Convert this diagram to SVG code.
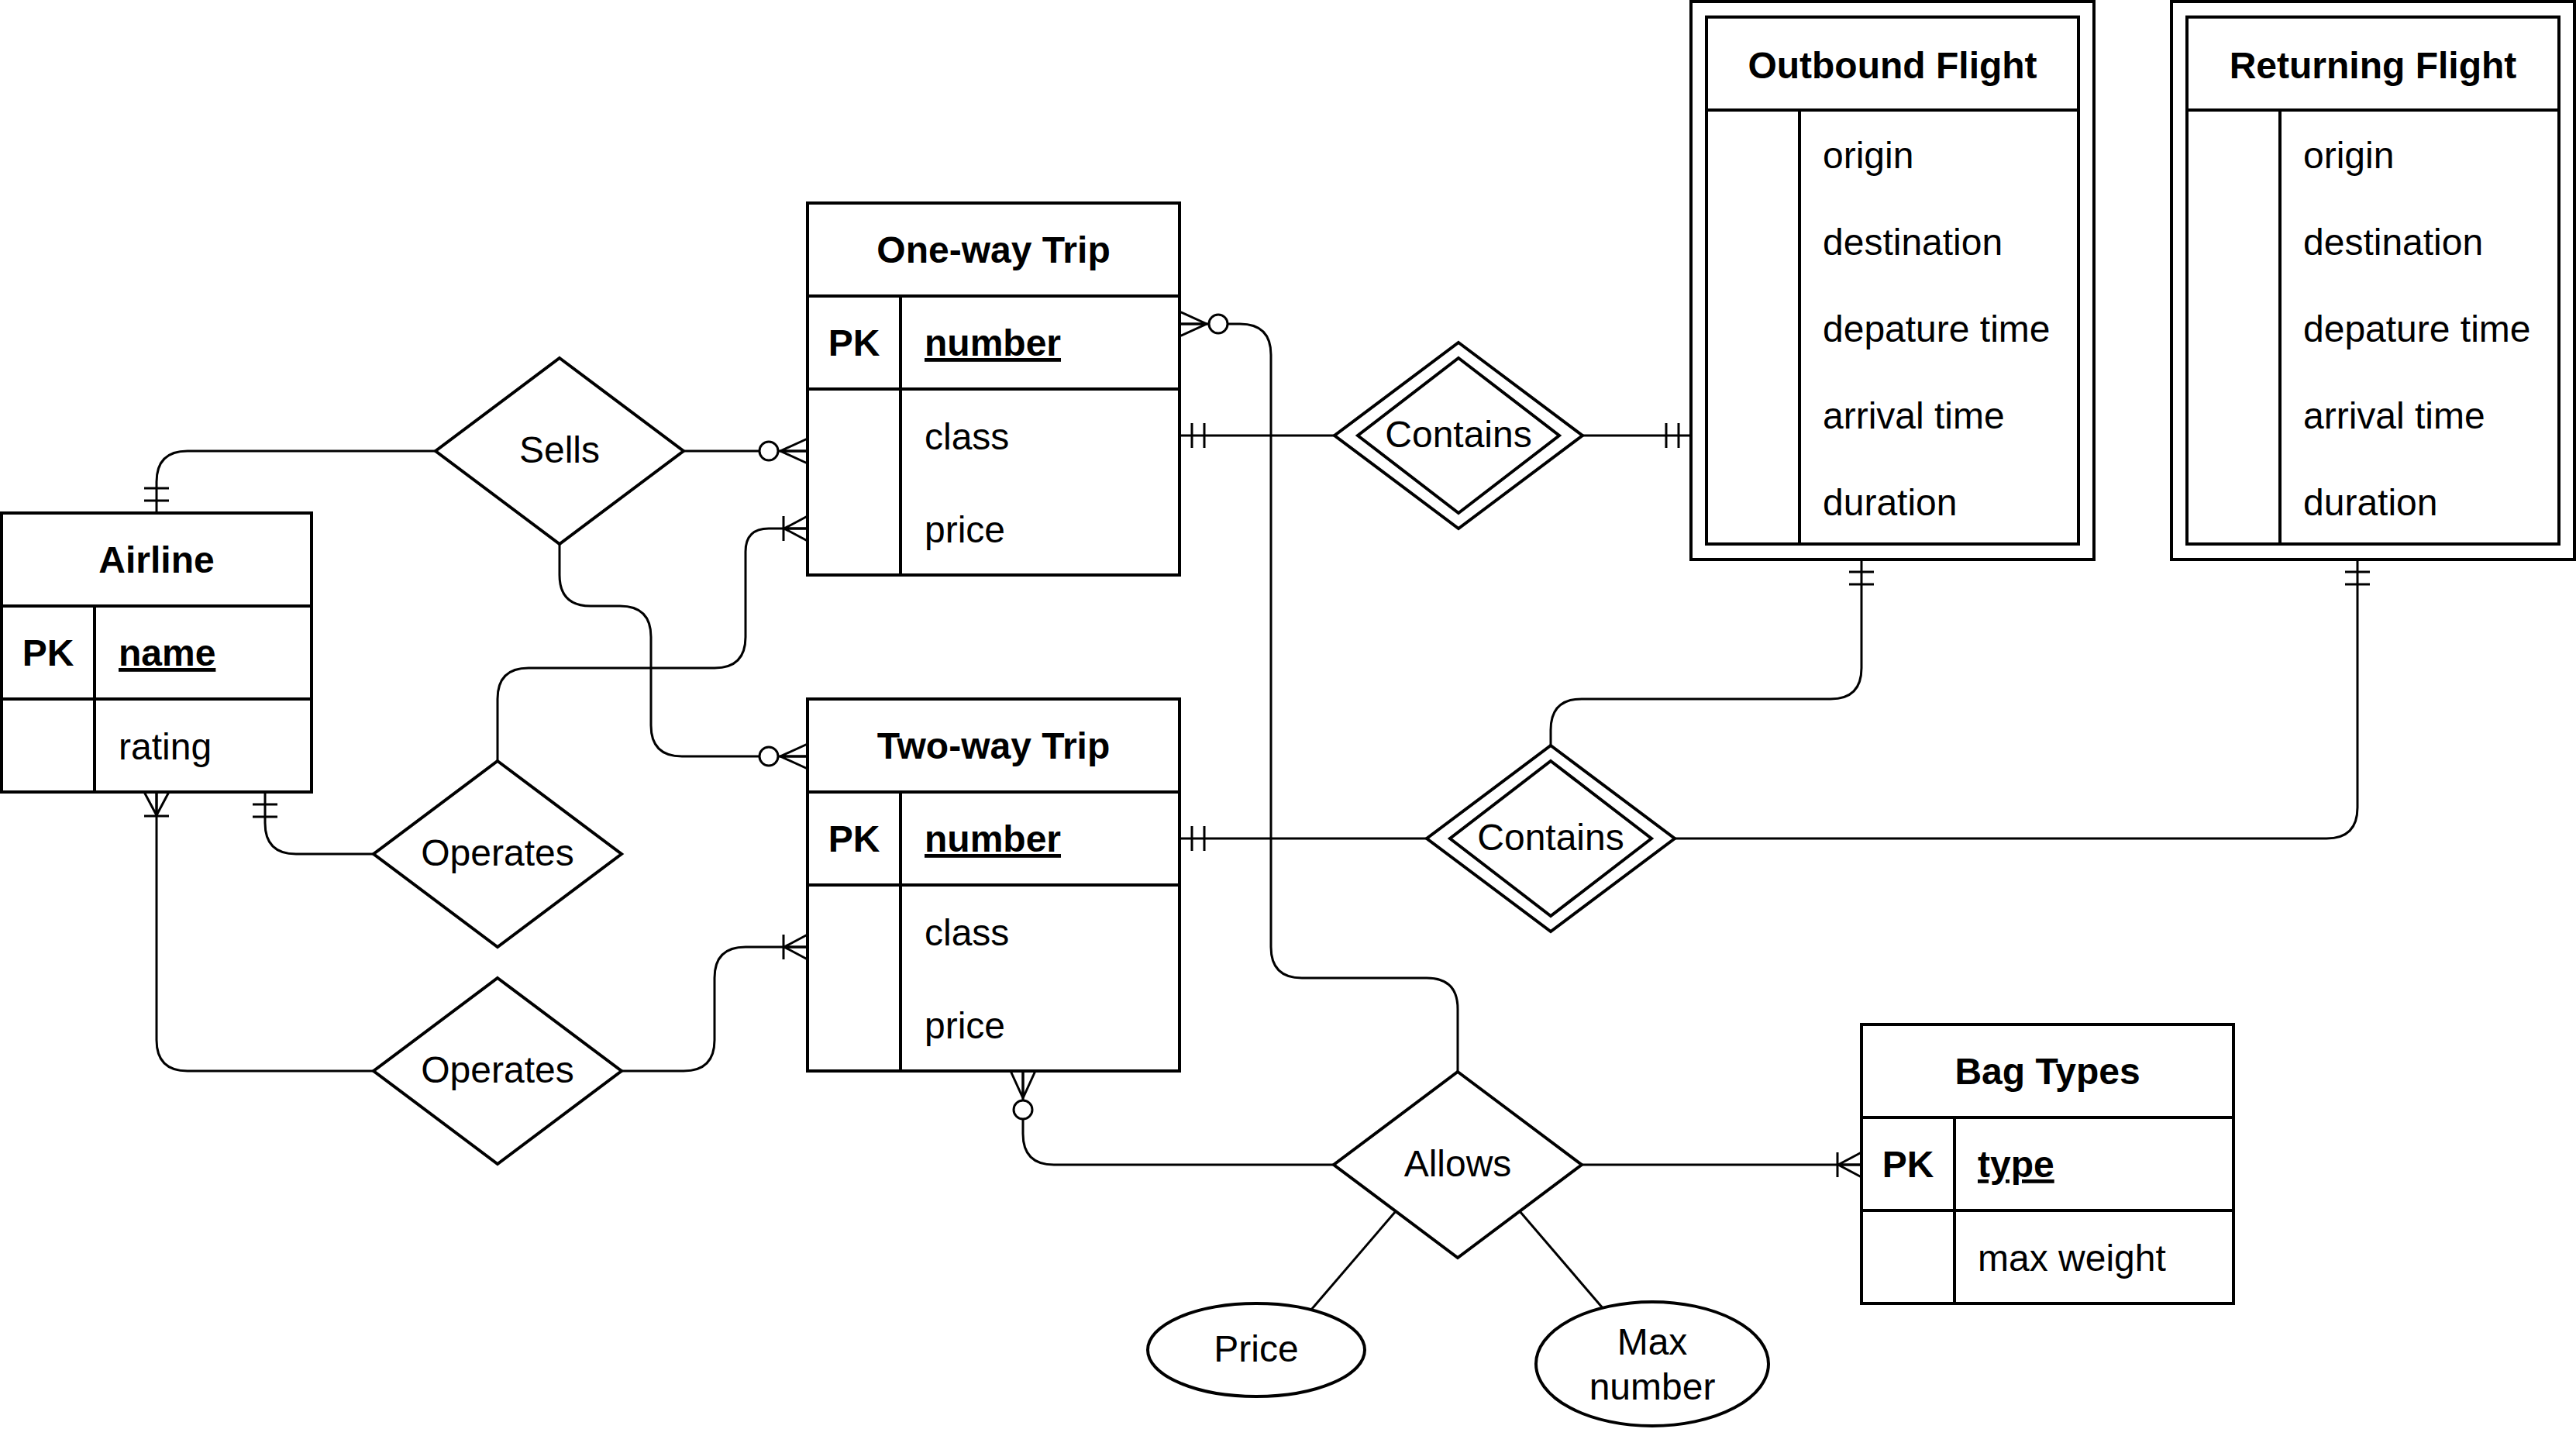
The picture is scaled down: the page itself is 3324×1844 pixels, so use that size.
<svg xmlns="http://www.w3.org/2000/svg" width="3324" height="1844" viewBox="0 0 3324 1844">
<style>
.s{fill:#fff;stroke:#000;stroke-width:4}
.l{fill:none;stroke:#000;stroke-width:4}
.e{fill:none;stroke:#000;stroke-width:3}
.m{fill:none;stroke:#000;stroke-width:3}
.mc{fill:#fff;stroke:#000;stroke-width:3}
text{font-family:"Liberation Sans",Arial,Helvetica,sans-serif;font-size:48px;fill:#000}
.b{font-weight:bold}
.c{text-anchor:middle}
.u{text-decoration:underline}
</style>
<defs>
<marker id="mandOne" markerUnits="userSpaceOnUse" markerWidth="60" markerHeight="40" refX="0" refY="0" orient="auto" overflow="visible"><path class="m" d="M-16,-16V16M-32,-16V16"/></marker>
<marker id="zeroMany" markerUnits="userSpaceOnUse" markerWidth="70" markerHeight="40" refX="0" refY="0" orient="auto" overflow="visible"><path class="m" d="M0,-16L-35,0L0,16M-35,0H0"/><circle class="mc" cx="-50" cy="0" r="12"/></marker>
<marker id="oneMany" markerUnits="userSpaceOnUse" markerWidth="60" markerHeight="40" refX="0" refY="0" orient="auto" overflow="visible"><path class="m" d="M0,-16L-30,0L0,16M-31,-16V16M-31,0H0"/></marker>
</defs>
<rect width="3324" height="1844" fill="#fff"/>
<g id="connectors">
<path class="e" d="M562,582H242Q202,582 202,622V662" marker-end="url(#mandOne)"/>
<path class="e" d="M882,582H1042" marker-end="url(#zeroMany)"/>
<path class="e" d="M722,702V742Q722,782 762,782H800Q840,782 840,822V936Q840,976 880,976H1042" marker-end="url(#zeroMany)"/>
<path class="e" d="M1881,1383V1302Q1881,1262 1841,1262H1680Q1640,1262 1640,1222V458Q1640,418 1600,418H1522" marker-end="url(#zeroMany)"/>
<path class="e" d="M1722,562H1522" marker-end="url(#mandOne)"/>
<path class="e" d="M2042,562H2182" marker-end="url(#mandOne)"/>
<path class="e" d="M1841,1082H1522" marker-end="url(#mandOne)"/>
<path class="e" d="M2001,962V942Q2001,902 2041,902H2362Q2402,902 2402,862V722" marker-end="url(#mandOne)"/>
<path class="e" d="M2161,1082H3002Q3042,1082 3042,1042V722" marker-end="url(#mandOne)"/>
<path class="e" d="M642,982V902Q642,862 682,862H922Q962,862 962,822V712Q962,682 992,682H1042" marker-end="url(#oneMany)"/>
<path class="e" d="M482,1102H382Q342,1102 342,1062V1022" marker-end="url(#mandOne)"/>
<path class="e" d="M482,1382H242Q202,1382 202,1342V1022" marker-end="url(#oneMany)"/>
<path class="e" d="M802,1382H882Q922,1382 922,1342V1262Q922,1222 962,1222H1042" marker-end="url(#oneMany)"/>
<path class="e" d="M1721,1503H1360Q1320,1503 1320,1463V1382" marker-end="url(#zeroMany)"/>
<path class="e" d="M2041,1503H2402" marker-end="url(#oneMany)"/>
<path class="e" d="M1801,1563L1692,1690"/>
<path class="e" d="M1961,1563L2069,1689"/>
</g>
<g id="airline">
<rect class="s" x="2" y="662" width="400" height="360"/>
<path class="l" d="M2,782H402M2,902H402M122,782V1022"/>
<text class="b c" x="202" y="739">Airline</text>
<text class="b c" x="62" y="859">PK</text>
<text class="b u" x="153" y="859">name</text>
<text x="153" y="980">rating</text>
</g>
<g id="one-way-trip">
<rect class="s" x="1042" y="262" width="480" height="480"/>
<path class="l" d="M1042,382H1522M1042,502H1522M1162,382V742"/>
<text class="b c" x="1282" y="339">One-way Trip</text>
<text class="b c" x="1102" y="459">PK</text>
<text class="b u" x="1193" y="459">number</text>
<text x="1193" y="580">class</text>
<text x="1193" y="700">price</text>
</g>
<g id="two-way-trip">
<rect class="s" x="1042" y="902" width="480" height="480"/>
<path class="l" d="M1042,1022H1522M1042,1142H1522M1162,1022V1382"/>
<text class="b c" x="1282" y="979">Two-way Trip</text>
<text class="b c" x="1102" y="1099">PK</text>
<text class="b u" x="1193" y="1099">number</text>
<text x="1193" y="1220">class</text>
<text x="1193" y="1340">price</text>
</g>
<g id="outbound-flight">
<rect class="s" x="2182" y="2" width="520" height="720"/>
<rect class="s" x="2202" y="22" width="480" height="680"/>
<path class="l" d="M2202,142H2682M2322,142V702"/>
<text class="b c" x="2442" y="101">Outbound Flight</text>
<text x="2352" y="217">origin</text>
<text x="2352" y="329">destination</text>
<text x="2352" y="441">depature time</text>
<text x="2352" y="553">arrival time</text>
<text x="2352" y="665">duration</text>
</g>
<g id="returning-flight">
<rect class="s" x="2802" y="2" width="520" height="720"/>
<rect class="s" x="2822" y="22" width="480" height="680"/>
<path class="l" d="M2822,142H3302M2942,142V702"/>
<text class="b c" x="3062" y="101">Returning Flight</text>
<text x="2972" y="217">origin</text>
<text x="2972" y="329">destination</text>
<text x="2972" y="441">depature time</text>
<text x="2972" y="553">arrival time</text>
<text x="2972" y="665">duration</text>
</g>
<g id="bag-types">
<rect class="s" x="2402" y="1322" width="480" height="360"/>
<path class="l" d="M2402,1442H2882M2402,1562H2882M2522,1442V1682"/>
<text class="b c" x="2642" y="1399">Bag Types</text>
<text class="b c" x="2462" y="1519">PK</text>
<text class="b u" x="2552" y="1519">type</text>
<text x="2552" y="1640">max weight</text>
</g>
<g id="sells">
<polygon class="s" points="722,462 882,582 722,702 562,582"/>
<text class="c" x="722" y="597">Sells</text>
</g>
<g id="contains-outbound">
<polygon class="s" points="1882,442 2042,562 1882,682 1722,562"/>
<polygon class="s" points="1882,462 2012,562 1882,662 1752,562"/>
<text class="c" x="1882" y="577">Contains</text>
</g>
<g id="contains-returning">
<polygon class="s" points="2001,962 2161,1082 2001,1202 1841,1082"/>
<polygon class="s" points="2001,982 2131,1082 2001,1182 1871,1082"/>
<text class="c" x="2001" y="1097">Contains</text>
</g>
<g id="operates-one-way">
<polygon class="s" points="642,982 802,1102 642,1222 482,1102"/>
<text class="c" x="642" y="1117">Operates</text>
</g>
<g id="operates-two-way">
<polygon class="s" points="642,1262 802,1382 642,1502 482,1382"/>
<text class="c" x="642" y="1397">Operates</text>
</g>
<g id="allows">
<polygon class="s" points="1881,1383 2041,1503 1881,1623 1721,1503"/>
<text class="c" x="1881" y="1518">Allows</text>
</g>
<g id="price">
<ellipse class="s" cx="1621" cy="1742" rx="140" ry="60"/>
<text class="c" x="1621" y="1757">Price</text>
</g>
<g id="max-number">
<ellipse class="s" cx="2132" cy="1760" rx="150" ry="80"/>
<text class="c" x="2132" y="1748">Max</text>
<text class="c" x="2132" y="1806">number</text>
</g>
</svg>
